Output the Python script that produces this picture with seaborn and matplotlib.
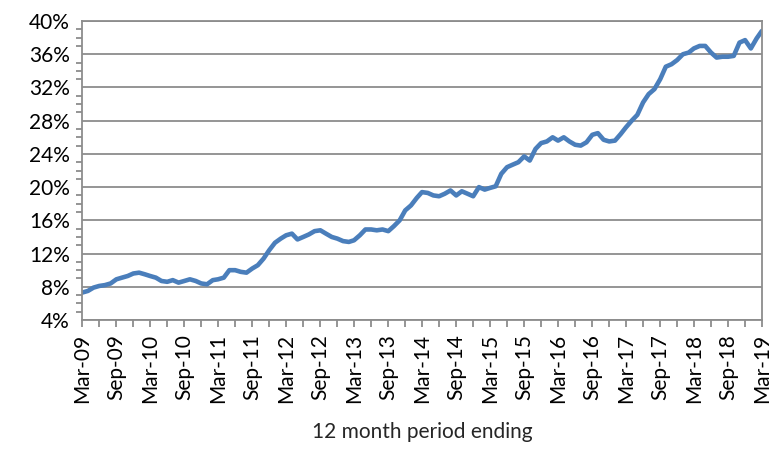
import numpy as np
import pandas as pd
import matplotlib
matplotlib.use('Agg')
from matplotlib import pyplot as plt
import matplotlib.dates as mdates
from matplotlib.ticker import MultipleLocator, PercentFormatter
import seaborn as sns

sns.set_theme(context='notebook', style='white')
plt.rcParams['font.family'] = ['Lato', 'DejaVu Sans']

# 12 month period ending, monthly from Mar-09 to Mar-19 (values in %)
start_month = '2009-03-01'
share = [
    7.3, 7.5, 7.9, 8.1, 8.2, 8.4, 8.9, 9.1, 9.3, 9.6, 9.7, 9.5,
    9.3, 9.1, 8.7, 8.6, 8.8, 8.5, 8.7, 8.9, 8.7, 8.4, 8.3, 8.8,
    8.9, 9.1, 10.0, 10.0, 9.8, 9.7, 10.2, 10.6, 11.4, 12.4, 13.3, 13.8,
    14.2, 14.4, 13.7, 14.0, 14.3, 14.7, 14.8, 14.4, 14.0, 13.8, 13.5, 13.4,
    13.6, 14.2, 14.9, 14.9, 14.8, 14.9, 14.7, 15.3, 16.0, 17.2, 17.8, 18.7,
    19.4, 19.3, 19.0, 18.9, 19.2, 19.6, 19.0, 19.5, 19.2, 18.9, 20.0, 19.7,
    19.9, 20.1, 21.6, 22.4, 22.7, 23.0, 23.7, 23.2, 24.6, 25.3, 25.5, 26.0,
    25.6, 26.0, 25.5, 25.1, 25.0, 25.4, 26.3, 26.5, 25.7, 25.5, 25.6, 26.4,
    27.2, 28.0, 28.7, 30.2, 31.2, 31.8, 33.0, 34.5, 34.8, 35.3, 36.0, 36.2,
    36.7, 37.0, 37.0, 36.2, 35.6, 35.7, 35.7, 35.8, 37.4, 37.7, 36.7, 37.9,
    38.8,
]
months = pd.date_range(start_month, periods=len(share), freq='MS')
df = pd.DataFrame({'month': months, 'share': share})

fig = plt.figure(figsize=(7.75, 4.53), dpi=100)
ax = fig.add_axes([0.106, 0.2936, 0.877, 0.66])

sns.lineplot(data=df, x='month', y='share', ax=ax, color='#4a7ebb', linewidth=3.3)

ax.set_ylim(4, 40)
ax.set_xlim(months[0], months[-1])
ax.yaxis.set_major_locator(MultipleLocator(4))
ax.yaxis.set_minor_locator(MultipleLocator(1))
ax.yaxis.set_major_formatter(PercentFormatter(decimals=0))
ax.xaxis.set_major_locator(mdates.MonthLocator(bymonth=(3, 9)))
ax.xaxis.set_minor_locator(mdates.MonthLocator(bymonth=(3, 6, 9, 12)))
ax.xaxis.set_major_formatter(mdates.DateFormatter('%b-%y'))

ax.grid(axis='y', which='major', color='#8c8c8c', linewidth=1.3)
ax.set_axisbelow(True)
for sp in ax.spines.values():
    sp.set_color('#8c8c8c')
    sp.set_linewidth(1.3)

ax.tick_params(axis='both', which='both', direction='out', color='#8c8c8c',
               width=1.3, labelsize=15, labelcolor='#000000')
ax.tick_params(axis='y', which='major', length=6, pad=3)
ax.tick_params(axis='y', which='minor', length=4, left=True)
ax.tick_params(axis='x', which='major', length=5, pad=5, bottom=True)
ax.tick_params(axis='x', which='minor', length=5, bottom=True)
plt.setp(ax.get_xticklabels(), rotation=90)

ax.set_ylabel('')
ax.set_xlabel('12 month period ending', fontsize=15, labelpad=14)

fig.savefig('out.png', dpi=100)
